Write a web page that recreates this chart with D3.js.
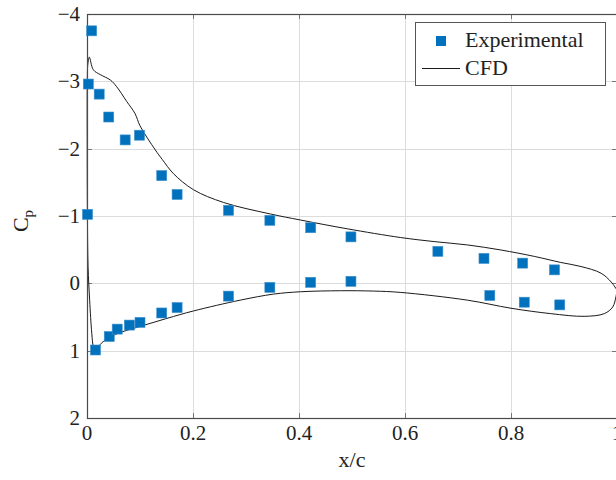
<!DOCTYPE html>
<html>
<head>
<meta charset="utf-8">
<script src="https://cdn.jsdelivr.net/npm/d3@7"></script>
<style>
  html, body { margin: 0; padding: 0; background: #fff; }
  svg { display: block; }
</style>
</head>
<body>
<script>
// ---- data ----
const xTicks = [0, 0.2, 0.4, 0.6, 0.8, 1];
const yTicks = [-4, -3, -2, -1, 0, 1, 2];

const expX  = [0.0088, 0.0025, 0.023, 0.041, 0.072, 0.099, 0.141, 0.170, 0.001, 0.267, 0.345, 0.422, 0.498, 0.662, 0.749, 0.822, 0.882,
               0.016, 0.042, 0.057, 0.080, 0.100, 0.141, 0.170, 0.267, 0.345, 0.422, 0.498, 0.760, 0.825, 0.892];
const expCp = [-3.75, -2.96, -2.81, -2.47, -2.13, -2.20, -1.60, -1.32, -1.025, -1.085, -0.936, -0.826, -0.69, -0.475, -0.37, -0.30, -0.20,
               0.99, 0.79, 0.68, 0.62, 0.58, 0.44, 0.36, 0.19, 0.06, -0.015, -0.03, 0.18, 0.28, 0.32];

const cfdX  = [1.0, 0.989, 0.970, 0.932, 0.894, 0.844, 0.781, 0.718, 0.655, 0.592, 0.491, 0.403, 0.346, 0.258, 0.201, 0.163, 0.142, 0.129,
               0.100, 0.0907, 0.075, 0.056, 0.044, 0.025, 0.012, 0.0043, 0.0015, 0.0006, 0.0004, 0.0008, 0.002, 0.005, 0.009, 0.012, 0.016,
               0.027, 0.05, 0.1, 0.151, 0.201, 0.289, 0.352, 0.403, 0.478, 0.541, 0.592, 0.718, 0.8, 0.875, 0.938, 0.976, 0.992, 0.998, 1.0];
const cfdCp = [0.10, -0.02, -0.15, -0.25, -0.31, -0.40, -0.495, -0.57, -0.62, -0.68, -0.81, -0.94, -1.03, -1.20, -1.39, -1.63, -1.84, -1.98,
               -2.34, -2.52, -2.70, -2.92, -3.02, -3.10, -3.17, -3.36, -3.25, -3.05, -2.0, -1.0, -0.25, 0.25, 0.74, 0.94, 1.0,
               0.89, 0.77, 0.64, 0.52, 0.41, 0.25, 0.16, 0.125, 0.11, 0.115, 0.135, 0.25, 0.37, 0.45, 0.49, 0.45, 0.35, 0.20, 0.10];

const legendLabels = ["Experimental", "CFD"];

// ---- layout ----
const W = 616, H = 480;
const FONT = "'Liberation Serif', 'DejaVu Serif', 'Times New Roman', serif";
const x = d3.scaleLinear().domain([0, 1]).range([87, 617]);
const y = d3.scaleLinear().domain([-4, 2]).range([14, 418]);
const blue = "rgb(0,114,189)";

const svg = d3.select("body").append("svg").attr("width", W).attr("height", H)
  .attr("font-family", FONT);

const [x0, x1] = x.range();
const [y0, y1] = y.range();

// grid
const grid = svg.append("g").attr("stroke", "#dcdcdc").attr("stroke-width", 1);
grid.selectAll("line.gx").data(xTicks).join("line")
  .attr("x1", d => Math.round(x(d)) + 0.5).attr("x2", d => Math.round(x(d)) + 0.5)
  .attr("y1", y0).attr("y2", y1);
grid.selectAll("line.gy").data(yTicks).join("line")
  .attr("y1", d => Math.round(y(d)) + 0.5).attr("y2", d => Math.round(y(d)) + 0.5)
  .attr("x1", x0).attr("x2", x1);

// inner tick marks
const tk = svg.append("g").attr("stroke", "#777").attr("stroke-width", 1);
xTicks.forEach(d => {
  const px = Math.round(x(d)) + 0.5;
  tk.append("line").attr("x1", px).attr("x2", px).attr("y1", y1).attr("y2", y1 - 5);
  tk.append("line").attr("x1", px).attr("x2", px).attr("y1", y0).attr("y2", y0 + 5);
});
yTicks.forEach(d => {
  const py = Math.round(y(d)) + 0.5;
  tk.append("line").attr("x1", x0).attr("x2", x0 + 5).attr("y1", py).attr("y2", py);
  tk.append("line").attr("x1", x1).attr("x2", x1 - 5).attr("y1", py).attr("y2", py);
});

// CFD line
const line = d3.line().x(d => x(d[0])).y(d => y(d[1])).curve(d3.curveCatmullRom.alpha(0.5));
svg.append("path")
  .datum(cfdX.map((v, i) => [v, cfdCp[i]]))
  .attr("d", line)
  .attr("fill", "none").attr("stroke", "#1a1a1a").attr("stroke-width", 1);

// axes box
svg.append("rect").attr("x", x0 + 0.5).attr("y", y0 + 0.5)
  .attr("width", x1 - x0).attr("height", y1 - y0)
  .attr("fill", "none").attr("stroke", "#4a4a4a").attr("stroke-width", 1.2);

// experimental squares
const s = 10;
svg.append("g").selectAll("rect").data(expX.map((v, i) => [v, expCp[i]])).join("rect")
  .attr("x", d => x(d[0]) - s / 2).attr("y", d => y(d[1]) - s / 2)
  .attr("width", s).attr("height", s)
  .attr("fill", blue).attr("stroke", "#3d8fcc").attr("stroke-width", 0.6);

// tick labels
svg.append("g").selectAll("text").data(xTicks).join("text")
  .attr("x", d => x(d)).attr("y", 440)
  .attr("text-anchor", "middle").attr("font-size", 21).attr("fill", "#222")
  .text(d => String(d));
const fmtY = d3.format("d");
svg.append("g").selectAll("text").data(yTicks).join("text")
  .attr("x", 80).attr("y", d => y(d) + 7)
  .attr("text-anchor", "end").attr("font-size", 21).attr("fill", "#222")
  .text(d => fmtY(d));

// axis labels
svg.append("text").attr("x", 352).attr("y", 467).attr("text-anchor", "middle")
  .attr("font-size", 22).attr("fill", "#222").text("x/c");
const yl = svg.append("text").attr("transform", "translate(28,221) rotate(-90)")
  .attr("text-anchor", "middle").attr("font-size", 22).attr("fill", "#222");
yl.append("tspan").text("C");
yl.append("tspan").attr("font-size", 15).attr("dy", 5).text("p");

// legend
const lg = svg.append("g");
lg.append("rect").attr("x", 415.5).attr("y", 22.5).attr("width", 190).attr("height", 63)
  .attr("fill", "#fff").attr("stroke", "#555").attr("stroke-width", 1);
lg.append("rect").attr("x", 441 - s / 2).attr("y", 41 - s / 2).attr("width", s).attr("height", s)
  .attr("fill", blue);
lg.append("line").attr("x1", 422).attr("x2", 460).attr("y1", 68.5).attr("y2", 68.5)
  .attr("stroke", "#1a1a1a").attr("stroke-width", 1);
lg.append("text").attr("x", 465).attr("y", 47).attr("font-size", 22).attr("fill", "#222").text(legendLabels[0]);
lg.append("text").attr("x", 465).attr("y", 75).attr("font-size", 22).attr("fill", "#222").text(legendLabels[1]);
</script>
</body>
</html>
